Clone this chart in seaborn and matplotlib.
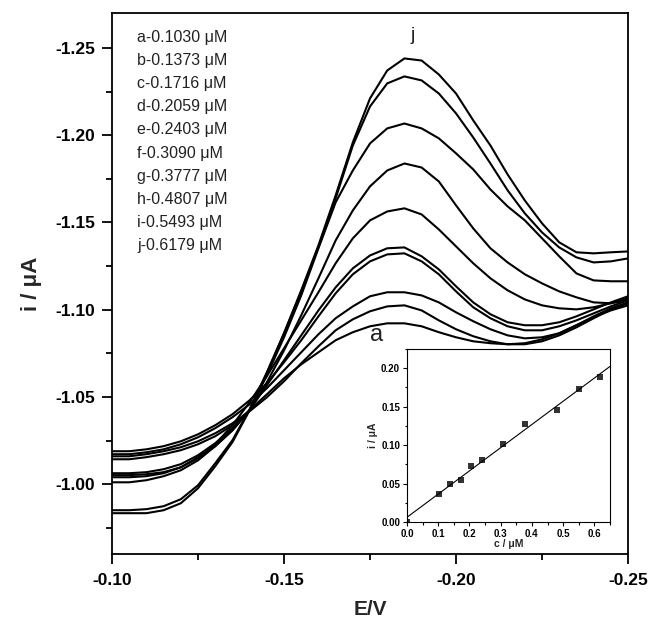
import matplotlib
matplotlib.use("Agg")
import matplotlib.pyplot as plt
import seaborn as sns
import pandas as pd
from matplotlib.ticker import MultipleLocator, FormatStrFormatter

# ---------------- data ----------------
E = [-0.100, -0.105, -0.110, -0.115, -0.120, -0.125, -0.130, -0.135, -0.140, -0.145,
     -0.150, -0.155, -0.160, -0.165, -0.170, -0.175, -0.180, -0.185, -0.190, -0.195,
     -0.200, -0.205, -0.210, -0.215, -0.220, -0.225, -0.230, -0.235, -0.240, -0.245, -0.250]

curve_a = [-1.0143, -1.0143, -1.0155, -1.0172, -1.0195, -1.0229, -1.0275, -1.0338, -1.0424, -1.0515,
           -1.0607, -1.0687, -1.0756, -1.0825, -1.0871, -1.0905, -1.0922, -1.0922, -1.0905, -1.0871,
           -1.0842, -1.0819, -1.0808, -1.0802, -1.0808, -1.0830, -1.0865, -1.0911, -1.0956, -1.0996, -1.1025]
curve_b = [-1.0160, -1.0160, -1.0172, -1.0189, -1.0212, -1.0246, -1.0292, -1.0349, -1.0418, -1.0498,
           -1.0590, -1.0693, -1.0790, -1.0882, -1.0945, -1.0991, -1.1019, -1.1025, -1.0996, -1.0939,
           -1.0888, -1.0848, -1.0819, -1.0802, -1.0802, -1.0819, -1.0853, -1.0899, -1.0951, -1.1002, -1.1037]
curve_c = [-1.0172, -1.0172, -1.0183, -1.0200, -1.0229, -1.0269, -1.0321, -1.0384, -1.0458, -1.0550,
           -1.0653, -1.0756, -1.0859, -1.0951, -1.1019, -1.1077, -1.1100, -1.1100, -1.1082, -1.1042,
           -1.0985, -1.0934, -1.0888, -1.0853, -1.0836, -1.0842, -1.0865, -1.0911, -1.0962, -1.1008, -1.1042]
curve_d = [-1.0189, -1.0189, -1.0200, -1.0218, -1.0246, -1.0286, -1.0338, -1.0401, -1.0481, -1.0578,
           -1.0699, -1.0825, -1.0962, -1.1094, -1.1203, -1.1277, -1.1317, -1.1323, -1.1277, -1.1203,
           -1.1105, -1.1014, -1.0951, -1.0905, -1.0882, -1.0882, -1.0905, -1.0939, -1.0979, -1.1019, -1.1054]
curve_e = [-1.0011, -1.0011, -1.0023, -1.0046, -1.0080, -1.0137, -1.0218, -1.0309, -1.0424, -1.0567,
           -1.0710, -1.0853, -1.0996, -1.1128, -1.1237, -1.1311, -1.1352, -1.1357, -1.1306, -1.1231,
           -1.1134, -1.1042, -1.0974, -1.0928, -1.0911, -1.0911, -1.0928, -1.0962, -1.1002, -1.1042, -1.1077]
curve_f = [-1.0040, -1.0040, -1.0046, -1.0063, -1.0097, -1.0155, -1.0229, -1.0338, -1.0470, -1.0619,
           -1.0779, -1.0939, -1.1100, -1.1266, -1.1409, -1.1512, -1.1563, -1.1581, -1.1546, -1.1460,
           -1.1363, -1.1266, -1.1180, -1.1111, -1.1059, -1.1025, -1.1008, -1.1002, -1.1014, -1.1037, -1.1065]
curve_g = [-1.0052, -1.0052, -1.0057, -1.0069, -1.0097, -1.0149, -1.0218, -1.0309, -1.0424, -1.0584,
           -1.0767, -1.0968, -1.1180, -1.1397, -1.1569, -1.1707, -1.1798, -1.1838, -1.1815, -1.1735,
           -1.1598, -1.1466, -1.1352, -1.1271, -1.1203, -1.1151, -1.1105, -1.1071, -1.1042, -1.1037, -1.1054]
curve_h = [-1.0063, -1.0063, -1.0069, -1.0086, -1.0115, -1.0166, -1.0235, -1.0321, -1.0424, -1.0624,
           -1.0842, -1.1082, -1.1352, -1.1615, -1.1798, -1.1953, -1.2039, -1.2067, -1.2039, -1.1982,
           -1.1896, -1.1804, -1.1689, -1.1592, -1.1512, -1.1409, -1.1306, -1.1208, -1.1168, -1.1163, -1.1163]
curve_i = [-0.9851, -0.9851, -0.9857, -0.9874, -0.9914, -0.9994, -1.0120, -1.0252, -1.0430, -1.0641,
           -1.0865, -1.1105, -1.1357, -1.1638, -1.1941, -1.2165, -1.2297, -1.2337, -1.2314, -1.2239,
           -1.2125, -1.1987, -1.1838, -1.1684, -1.1552, -1.1443, -1.1357, -1.1300, -1.1271, -1.1277, -1.1294]
curve_j = [-0.9834, -0.9834, -0.9834, -0.9851, -0.9891, -0.9977, -1.0103, -1.0241, -1.0424, -1.0636,
           -1.0865, -1.1111, -1.1369, -1.1655, -1.1959, -1.2211, -1.2371, -1.2440, -1.2428, -1.2348,
           -1.2239, -1.2085, -1.1941, -1.1775, -1.1626, -1.1495, -1.1386, -1.1329, -1.1323, -1.1329, -1.1334]

curve_names = ["a", "b", "c", "d", "e", "f", "g", "h", "i", "j"]
curves = [curve_a, curve_b, curve_c, curve_d, curve_e, curve_f, curve_g, curve_h, curve_i, curve_j]
conc_labels = ["0.1030", "0.1373", "0.1716", "0.2059", "0.2403",
               "0.3090", "0.3777", "0.4807", "0.5493", "0.6179"]

# inset calibration data
inset_c = [0.0, 0.1030, 0.1373, 0.1716, 0.2059, 0.2403, 0.3090, 0.3777, 0.4807, 0.5493, 0.6179]
inset_i = [0.0, 0.037, 0.0496, 0.0548, 0.073, 0.080, 0.1013, 0.1278, 0.146, 0.1735, 0.188]

# ---------------- style ----------------
sns.set_style("ticks")
plt.rcParams["font.family"] = ["Liberation Sans", "DejaVu Sans"]
plt.rcParams["axes.unicode_minus"] = False
plt.rcParams["axes.edgecolor"] = "black"
plt.rcParams["xtick.color"] = "black"
plt.rcParams["ytick.color"] = "black"

fig = plt.figure(figsize=(6.54, 6.22), dpi=100)
ax = fig.add_axes([0.1713, 0.1093, 0.7890, 0.8697])

rows = []
for name, vals in zip(curve_names, curves):
    for e, v in zip(E, vals):
        rows.append({"E": e, "i": v, "curve": name})
df = pd.DataFrame(rows)

sns.lineplot(data=df, x="E", y="i", units="curve", estimator=None, color="black",
             linewidth=1.5, sort=False, ax=ax, legend=False)

ax.set_xlim(-0.10, -0.25)
ax.set_ylim(-0.96, -1.27)
ax.xaxis.set_major_locator(MultipleLocator(0.05))
ax.xaxis.set_minor_locator(MultipleLocator(0.025))
ax.yaxis.set_major_locator(MultipleLocator(0.05))
ax.yaxis.set_minor_locator(MultipleLocator(0.025))
ax.xaxis.set_major_formatter(FormatStrFormatter("%.2f"))
ax.yaxis.set_major_formatter(FormatStrFormatter("%.2f"))
ax.tick_params(which="major", direction="out", length=7, width=1.3, labelsize=12.5)
ax.tick_params(axis="x", which="major", pad=7)
ax.tick_params(axis="y", which="major", pad=5)
ax.tick_params(which="minor", direction="out", length=4, width=1.3)
for lab in ax.get_xticklabels() + ax.get_yticklabels():
    lab.set_fontweight("bold")
for sp in ax.spines.values():
    sp.set_linewidth(1.3)
    sp.set_color("black")

ax.set_xlabel("E/V", fontsize=15, fontweight="bold", labelpad=8)
ax.set_ylabel("i / μA", fontsize=16, fontweight="bold", labelpad=10)

# concentration list
for k, (name, cl) in enumerate(zip(curve_names, conc_labels)):
    ax.text(0.0484, 0.9556 - k * 0.0429, f"{name}-{cl} μM", transform=ax.transAxes,
            fontsize=11.5, ha="left", va="center", color="#222222")

ax.text(-0.1875, -1.2571, "j", fontsize=14, ha="center", va="center", color="#222222")
ax.text(-0.1770, -1.0853, "a", fontsize=17, ha="center", va="center", color="#222222")

# ---------------- inset ----------------
axin = fig.add_axes([0.6223, 0.1608, 0.3104, 0.2781])
axin.set_facecolor("white")
axin.set_xlim(0, 0.65)
axin.set_ylim(0, 0.225)
sns.regplot(x=inset_c, y=inset_i, ax=axin, ci=None, truncate=False, marker="s",
            color="black", scatter_kws={"s": 14, "linewidths": 0},
            line_kws={"linewidth": 0.8})
axin.set_xlim(0, 0.65)
axin.set_ylim(0, 0.225)
axin.xaxis.set_major_locator(MultipleLocator(0.1))
axin.xaxis.set_minor_locator(MultipleLocator(0.05))
axin.yaxis.set_major_locator(MultipleLocator(0.05))
axin.yaxis.set_minor_locator(MultipleLocator(0.025))
axin.xaxis.set_major_formatter(FormatStrFormatter("%.1f"))
axin.yaxis.set_major_formatter(FormatStrFormatter("%.2f"))
axin.tick_params(which="major", direction="out", length=3, width=0.8, labelsize=7, pad=2)
axin.tick_params(which="minor", direction="out", length=1.8, width=0.8)
for lab in axin.get_xticklabels() + axin.get_yticklabels():
    lab.set_fontweight("bold")
for sp in axin.spines.values():
    sp.set_linewidth(0.8)
    sp.set_color("black")
axin.set_xlabel("c / μM", fontsize=7.5, fontweight="bold", labelpad=0)
axin.set_ylabel("i / μA", fontsize=7.5, fontweight="bold", labelpad=2)

fig.savefig("out.png", dpi=100)
